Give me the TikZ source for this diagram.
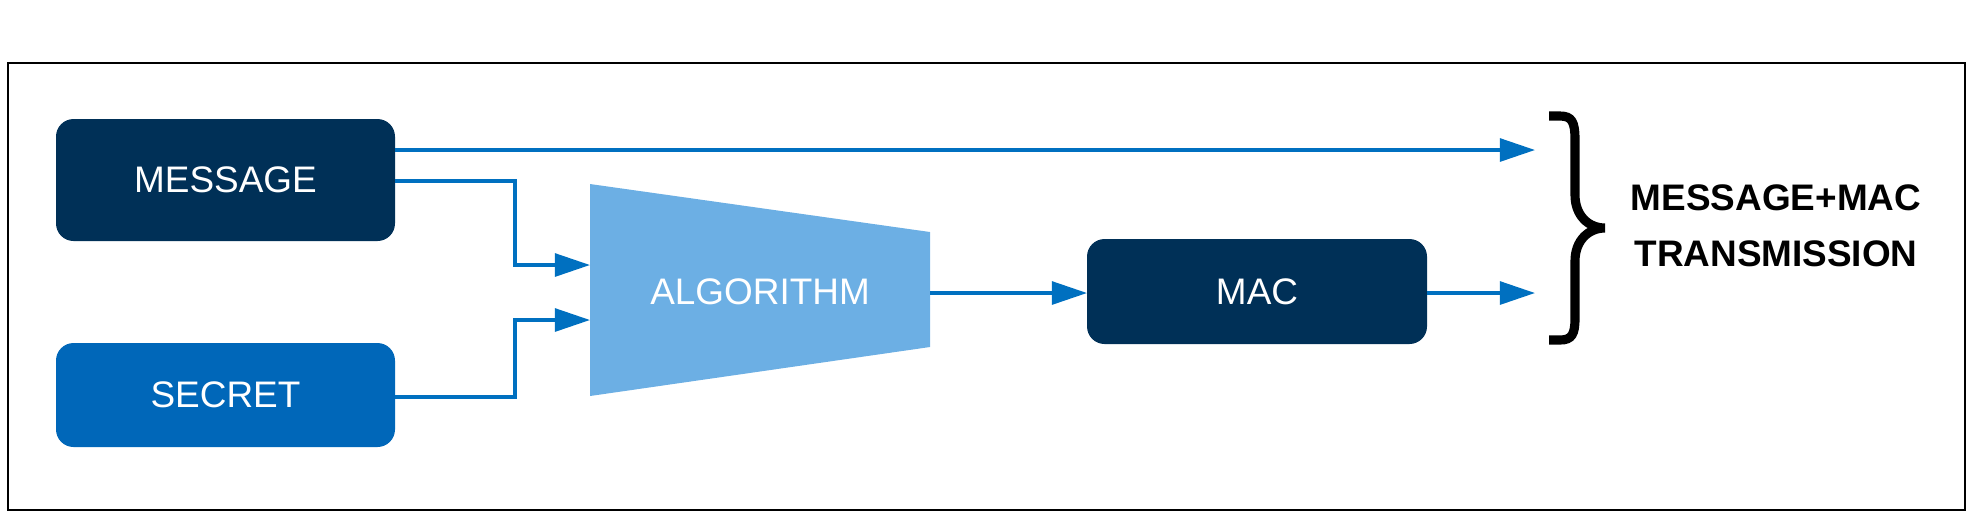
\documentclass[tikz,border=0pt]{standalone}
\usepackage{fontspec}
\setmainfont{Liberation Sans}
\usetikzlibrary{arrows.meta}
\definecolor{navy}{RGB}{0,48,87}
\definecolor{midblue}{RGB}{0,103,185}
\definecolor{lightblue}{RGB}{108,175,228}
\definecolor{arrowblue}{RGB}{0,112,192}
\begin{document}
\begin{tikzpicture}[x=0.01cm,y=-0.01cm,
  box/.style={rounded corners=5pt,inner sep=0pt},
  lbl/.style={text=white,font=\fontsize{10.5}{12}\selectfont},
  conn/.style={draw=arrowblue,line width=1pt,-{Triangle[length=10pt,width=6.5pt]}}]
\useasboundingbox (0,0) rectangle (1973,514);
\draw[line width=0.6pt] (8,63) rectangle (1965,510);
\fill[navy,box] (56,119) rectangle (395,241);
\node[lbl] (msg) at (225.5,180) {MESSAGE};
\coordinate (msgE) at (395,150);
\coordinate (msgE2) at (395,181);
\fill[midblue,box] (56,343) rectangle (395,447);
\node[lbl] (sec) at (225.5,395) {SECRET};
\coordinate (secE) at (395,397);
\fill[lightblue] (590,184) -- (930,232) -- (930,347) -- (590,396) -- cycle;
\node[lbl] (alg) at (760,292) {ALGORITHM};
\coordinate (algIn1) at (590,265);
\coordinate (algIn2) at (590,320);
\coordinate (algOut) at (930,293);
\fill[navy,box] (1087,239) rectangle (1427,344);
\node[lbl] (mac) at (1257,292) {MAC};
\coordinate (macW) at (1087,293);
\coordinate (macE) at (1427,293);
\coordinate (t1) at (1535,150);
\coordinate (t2) at (1535,293);
\draw[conn] (msgE) -- (t1);
\draw[conn] (msgE2) -- (515,181) -- (515,265) -- (algIn1);
\draw[conn] (secE) -- (515,397) -- (515,320) -- (algIn2);
\draw[conn] (algOut) -- (macW);
\draw[conn] (macE) -- (t2);
\draw[line width=2.6pt] (1549,116) -- (1560,116) .. controls (1572,116) and (1575,122) .. (1575,140)
  -- (1575,195) .. controls (1575,215) and (1588,228) .. (1605,228)
  .. controls (1588,228) and (1575,241) .. (1575,261) -- (1575,318)
  .. controls (1575,334) and (1572,340) .. (1560,340) -- (1549,340);
\node[font=\bfseries\fontsize{10.5}{12}\selectfont,align=center] (out) at (1776,226) {MESSAGE+MAC\\[4pt]TRANSMISSION};
\end{tikzpicture}
\end{document}
